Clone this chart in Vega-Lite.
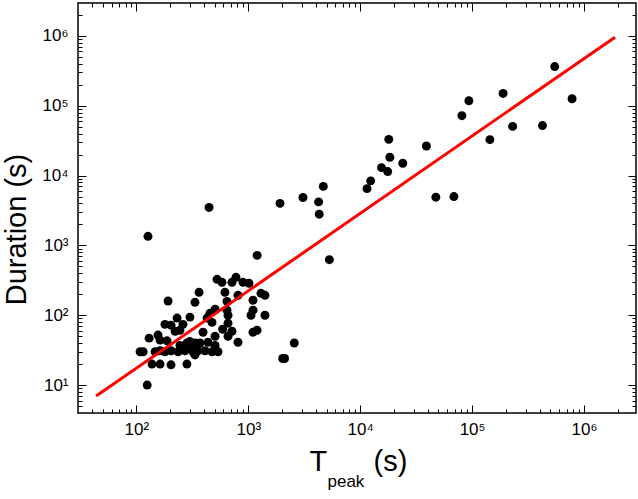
{
  "$schema": "https://vega.github.io/schema/vega-lite/v6.json",
  "width": 558,
  "height": 410,
  "autosize": "none",
  "padding": {"left": 78, "top": 3, "right": 2, "bottom": 86},
  "background": "white",
  "config": {
    "view": {"stroke": "black", "strokeWidth": 1.5},
    "axis": {
      "grid": false, "domain": false, "tickColor": "black", "tickWidth": 1,
      "labelColor": "black", "titleColor": "black",
      "labelFont": "Liberation Sans, DejaVu Sans", "titleFont": "Liberation Sans, DejaVu Sans",
      "titleFontWeight": "normal", "labelFontSize": 17, "titleFontSize": 29,
      "labelOverlap": false, "labelFlush": false
    }
  },
  "datasets": {
    "pts": [
      {"tpeak": 127, "duration": 1350}, {"tpeak": 446, "duration": 3500}, {"tpeak": 1920, "duration": 4000},
      {"tpeak": 1200, "duration": 720}, {"tpeak": 3080, "duration": 4850}, {"tpeak": 4680, "duration": 7000},
      {"tpeak": 4250, "duration": 4200}, {"tpeak": 4300, "duration": 2800}, {"tpeak": 5300, "duration": 625},
      {"tpeak": 11500, "duration": 6500}, {"tpeak": 12400, "duration": 8400}, {"tpeak": 15500, "duration": 13000},
      {"tpeak": 17600, "duration": 11400}, {"tpeak": 18000, "duration": 33000}, {"tpeak": 18400, "duration": 18300},
      {"tpeak": 24000, "duration": 15000}, {"tpeak": 39000, "duration": 26500}, {"tpeak": 47400, "duration": 4900},
      {"tpeak": 68700, "duration": 5000}, {"tpeak": 81000, "duration": 72000}, {"tpeak": 93500, "duration": 118000},
      {"tpeak": 144000, "duration": 32700}, {"tpeak": 189000, "duration": 150000}, {"tpeak": 230000, "duration": 50600},
      {"tpeak": 425000, "duration": 52000}, {"tpeak": 547000, "duration": 364000}, {"tpeak": 781000, "duration": 126000},
      {"tpeak": 2575, "duration": 40}, {"tpeak": 2030, "duration": 24}, {"tpeak": 2110, "duration": 24},
      {"tpeak": 526, "duration": 327}, {"tpeak": 582, "duration": 296}, {"tpeak": 776, "duration": 349},
      {"tpeak": 715, "duration": 296}, {"tpeak": 897, "duration": 296}, {"tpeak": 1014, "duration": 287},
      {"tpeak": 619, "duration": 213}, {"tpeak": 363, "duration": 213}, {"tpeak": 809, "duration": 193},
      {"tpeak": 1298, "duration": 206}, {"tpeak": 1409, "duration": 193}, {"tpeak": 192, "duration": 160},
      {"tpeak": 334, "duration": 153}, {"tpeak": 645, "duration": 158}, {"tpeak": 1102, "duration": 164},
      {"tpeak": 505, "duration": 122}, {"tpeak": 455, "duration": 107}, {"tpeak": 645, "duration": 118},
      {"tpeak": 659, "duration": 100}, {"tpeak": 1102, "duration": 118}, {"tpeak": 1057, "duration": 100},
      {"tpeak": 1409, "duration": 100}, {"tpeak": 231, "duration": 91}, {"tpeak": 301, "duration": 94},
      {"tpeak": 428, "duration": 91}, {"tpeak": 474, "duration": 79}, {"tpeak": 659, "duration": 77},
      {"tpeak": 180, "duration": 74}, {"tpeak": 204, "duration": 72}, {"tpeak": 261, "duration": 74},
      {"tpeak": 245, "duration": 61}, {"tpeak": 222, "duration": 59}, {"tpeak": 394, "duration": 57},
      {"tpeak": 590, "duration": 63}, {"tpeak": 715, "duration": 59}, {"tpeak": 659, "duration": 50},
      {"tpeak": 505, "duration": 50}, {"tpeak": 1197, "duration": 61}, {"tpeak": 1102, "duration": 57},
      {"tpeak": 156, "duration": 52}, {"tpeak": 130, "duration": 47}, {"tpeak": 188, "duration": 43},
      {"tpeak": 245, "duration": 37}, {"tpeak": 283, "duration": 40}, {"tpeak": 334, "duration": 40},
      {"tpeak": 370, "duration": 40}, {"tpeak": 437, "duration": 41}, {"tpeak": 809, "duration": 41},
      {"tpeak": 108, "duration": 30}, {"tpeak": 115, "duration": 30}, {"tpeak": 147, "duration": 30},
      {"tpeak": 163, "duration": 31}, {"tpeak": 180, "duration": 30}, {"tpeak": 204, "duration": 31},
      {"tpeak": 236, "duration": 30}, {"tpeak": 272, "duration": 31}, {"tpeak": 321, "duration": 30},
      {"tpeak": 355, "duration": 31}, {"tpeak": 410, "duration": 31}, {"tpeak": 474, "duration": 30},
      {"tpeak": 536, "duration": 30}, {"tpeak": 334, "duration": 27}, {"tpeak": 138, "duration": 20},
      {"tpeak": 163, "duration": 20}, {"tpeak": 204, "duration": 19.5}, {"tpeak": 283, "duration": 20},
      {"tpeak": 125, "duration": 10}, {"tpeak": 301, "duration": 34}, {"tpeak": 505, "duration": 37},
      {"tpeak": 163, "duration": 44}, {"tpeak": 301, "duration": 42}
    ],
    "fit": [
      {"tpeak": 43.7, "duration": 6.96},
      {"tpeak": 1890000, "duration": 960000}
    ]
  },
  "resolve": {"scale": {"x": "shared", "y": "shared"}, "axis": {"x": "independent", "y": "independent"}},
  "layer": [
    {
      "data": {"name": "pts"},
      "mark": {"type": "circle", "size": 80, "color": "black", "opacity": 1},
      "encoding": {
        "x": {"field": "tpeak", "type": "quantitative",
          "scale": {"type": "log", "domain": [30.1, 2910000], "nice": false},
          "axis": {"orient": "bottom", "values": [100, 1000, 10000, 100000, 1000000], "tickSize": -8, "labelPadding": 16,
            "labelExpr": "'10' + (datum.value < 500 ? '²' : datum.value < 5000 ? '³' : datum.value < 50000 ? '⁴' : datum.value < 500000 ? '⁵' : '⁶')",
            "title": "T", "titleX": 231, "titleY": 57, "titleAlign": "left", "titleBaseline": "alphabetic", "titleAngle": 0}},
        "y": {"field": "duration", "type": "quantitative",
          "scale": {"type": "log", "domain": [3.98, 2960000], "nice": false},
          "axis": {"orient": "left", "values": [10, 100, 1000, 10000, 100000, 1000000], "tickSize": -8, "labelPadding": 18,
            "labelExpr": "'10' + (datum.value < 50 ? '¹' : datum.value < 500 ? '²' : datum.value < 5000 ? '³' : datum.value < 50000 ? '⁴' : datum.value < 500000 ? '⁵' : '⁶')",
            "title": "Duration (s)", "titleX": -53, "titleY": 226, "titleAngle": -90, "titleAlign": "center", "titleBaseline": "alphabetic"}}
      }
    },
    {
      "data": {"name": "fit"},
      "mark": {"type": "line", "color": "#ff0000", "strokeWidth": 3},
      "encoding": {
        "x": {"field": "tpeak", "type": "quantitative",
          "scale": {"type": "log", "domain": [30.1, 2910000], "nice": false},
          "axis": {"orient": "bottom", "values": [40, 50, 60, 70, 80, 90, 200, 300, 400, 500, 600, 700, 800, 900, 2000, 3000, 4000, 5000, 6000, 7000, 8000, 9000, 20000, 30000, 40000, 50000, 60000, 70000, 80000, 90000, 200000, 300000, 400000, 500000, 600000, 700000, 800000, 900000, 2000000],
            "tickSize": -4, "labels": false,
            "title": "peak", "titleFontSize": 17, "titleX": 249, "titleY": 73, "titleAlign": "left", "titleBaseline": "alphabetic", "titleAngle": 0}},
        "y": {"field": "duration", "type": "quantitative",
          "scale": {"type": "log", "domain": [3.98, 2960000], "nice": false},
          "axis": {"orient": "left", "values": [5, 6, 7, 8, 9, 20, 30, 40, 50, 60, 70, 80, 90, 200, 300, 400, 500, 600, 700, 800, 900, 2000, 3000, 4000, 5000, 6000, 7000, 8000, 9000, 20000, 30000, 40000, 50000, 60000, 70000, 80000, 90000, 200000, 300000, 400000, 500000, 600000, 700000, 800000, 900000, 2000000],
            "tickSize": -4, "labels": false, "title": null}}
      }
    },
    {
      "data": {"name": "pts"},
      "mark": {"type": "circle", "size": 80, "opacity": 0},
      "encoding": {
        "x": {"field": "tpeak", "type": "quantitative",
          "scale": {"type": "log", "domain": [30.1, 2910000], "nice": false},
          "axis": {"orient": "top", "values": [100, 1000, 10000, 100000, 1000000], "tickSize": -8, "labels": false,
            "title": "(s)", "titleX": 295, "titleY": 467, "titleAlign": "left", "titleBaseline": "alphabetic", "titleAngle": 0}},
        "y": {"field": "duration", "type": "quantitative",
          "scale": {"type": "log", "domain": [3.98, 2960000], "nice": false},
          "axis": {"orient": "right", "values": [10, 100, 1000, 10000, 100000, 1000000], "tickSize": -8, "labels": false, "title": null}}
      }
    },
    {
      "data": {"name": "pts"},
      "mark": {"type": "circle", "size": 80, "opacity": 0},
      "encoding": {
        "x": {"field": "tpeak", "type": "quantitative",
          "scale": {"type": "log", "domain": [30.1, 2910000], "nice": false},
          "axis": {"orient": "top", "values": [40, 50, 60, 70, 80, 90, 200, 300, 400, 500, 600, 700, 800, 900, 2000, 3000, 4000, 5000, 6000, 7000, 8000, 9000, 20000, 30000, 40000, 50000, 60000, 70000, 80000, 90000, 200000, 300000, 400000, 500000, 600000, 700000, 800000, 900000, 2000000],
            "tickSize": -4, "labels": false, "title": null}},
        "y": {"field": "duration", "type": "quantitative",
          "scale": {"type": "log", "domain": [3.98, 2960000], "nice": false},
          "axis": {"orient": "right", "values": [5, 6, 7, 8, 9, 20, 30, 40, 50, 60, 70, 80, 90, 200, 300, 400, 500, 600, 700, 800, 900, 2000, 3000, 4000, 5000, 6000, 7000, 8000, 9000, 20000, 30000, 40000, 50000, 60000, 70000, 80000, 90000, 200000, 300000, 400000, 500000, 600000, 700000, 800000, 900000, 2000000],
            "tickSize": -4, "labels": false, "title": null}}
      }
    }
  ]
}
